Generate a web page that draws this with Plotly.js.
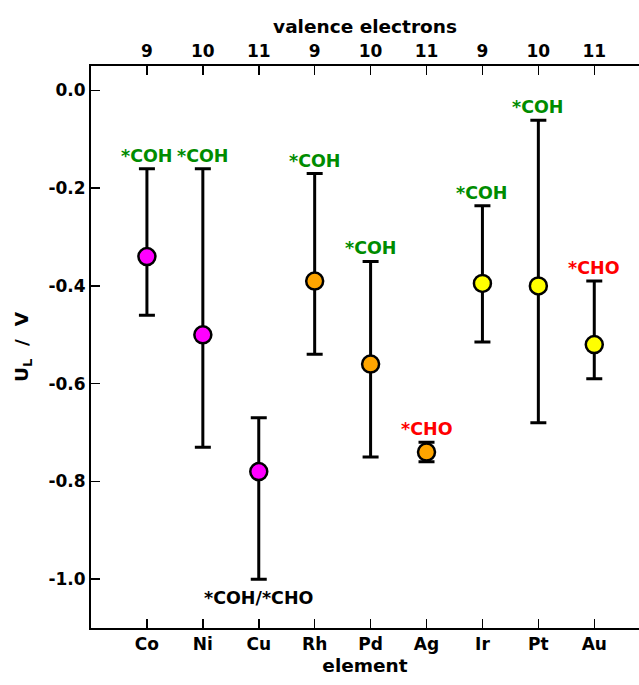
<!DOCTYPE html>
<html>
<head>
<meta charset="utf-8">
<script src="https://cdn.plot.ly/plotly-3.0.1.min.js"></script>
<style>html,body{margin:0;padding:0;overflow:hidden;background:#fff}</style>
</head>
<body>
<div id="chart" style="width:639px;height:685px"></div>
<script>
const elements = ["Co","Ni","Cu","Rh","Pd","Ag","Ir","Pt","Au"];
const valence = ["9","10","11","9","10","11","9","10","11"];
const UL = [-0.34,-0.50,-0.78,-0.39,-0.56,-0.74,-0.395,-0.40,-0.52];
const errUpperEnd = [-0.16,-0.16,-0.67,-0.17,-0.35,-0.72,-0.236,-0.061,-0.39];
const errLowerEnd = [-0.46,-0.73,-1.00,-0.54,-0.75,-0.76,-0.515,-0.68,-0.59];
const pointColors = ["#ff00ff","#ff00ff","#ff00ff","#ffa500","#ffa500","#ffa500","#ffff00","#ffff00","#ffff00"];
const labels = ["*COH","*COH","*COH/*CHO","*COH","*COH","*CHO","*COH","*COH","*CHO"];
const labelColors = ["#008c00","#008c00","#000000","#008c00","#008c00","#ff0000","#008c00","#008c00","#ff0000"];
const labelBelow = [false,false,true,false,false,false,false,false,false];
const yTickVals = [0, -0.2, -0.4, -0.6, -0.8, -1.0];
const yTickText = ["0.0","-0.2","-0.4","-0.6","-0.8","-1.0"];

const xs = elements.map((_, i) => i + 1);
const plus = UL.map((v, i) => errUpperEnd[i] - v);
const minus = UL.map((v, i) => v - errLowerEnd[i]);

const FONT = "DejaVu Sans, Arial, sans-serif";
const b = s => "<b>" + s + "</b>";

const trace = {
  x: xs, y: UL, type: "scatter", mode: "markers",
  marker: {size: 17, color: pointColors, line: {color: "#000", width: 2.5}},
  error_y: {type: "data", symmetric: false, array: plus, arrayminus: minus,
            color: "#000", thickness: 3, width: 8},
  showlegend: false, hoverinfo: "skip"
};
const topTrace = {x: xs, y: UL, xaxis: "x2", type: "scatter", mode: "markers",
  marker: {opacity: 0}, showlegend: false, hoverinfo: "skip"};

const annotations = labels.map((t, i) => ({
  x: xs[i], y: labelBelow[i] ? errLowerEnd[i] : errUpperEnd[i],
  xref: "x", yref: "y", text: b(t), showarrow: false,
  xanchor: "center", yanchor: labelBelow[i] ? "top" : "bottom",
  yshift: labelBelow[i] ? -7 : 1,
  font: {family: FONT, size: 17.5, color: labelColors[i]}
}));

const axisCommon = {
  ticks: "inside", ticklen: 9, tickwidth: 1.5, tickcolor: "#000",
  showline: true, linecolor: "#000", linewidth: 2, showgrid: false, zeroline: false,
  tickfont: {family: FONT, size: 17}
};

const layout = {
  width: 639, height: 685,
  margin: {l: 91, r: 0, t: 66, b: 57},
  paper_bgcolor: "#fff", plot_bgcolor: "#fff",
  font: {family: FONT, size: 17, color: "#000"},
  xaxis: Object.assign({}, axisCommon, {
    range: [0, 9.8], tickvals: xs, ticktext: elements.map(b),
    title: {text: b("element"), font: {family: FONT, size: 18.5}, standoff: 6}
  }),
  xaxis2: Object.assign({}, axisCommon, {
    overlaying: "x", side: "top", range: [0, 9.8], tickvals: xs,
    ticktext: valence.map(b),
    title: {text: b("valence electrons"), font: {family: FONT, size: 18.5}, standoff: 3}
  }),
  yaxis: Object.assign({}, axisCommon, {
    range: [-1.1, 0.05], tickvals: yTickVals, ticktext: yTickText.map(b),
    title: {text: b("U<sub>L</sub>\u00a0\u00a0/\u00a0\u00a0V"), font: {family: FONT, size: 18.5}, standoff: 15}
  }),
  annotations: annotations
};

Plotly.newPlot("chart", [trace, topTrace], layout, {staticPlot: true, displayModeBar: false});
</script>
</body>
</html>
